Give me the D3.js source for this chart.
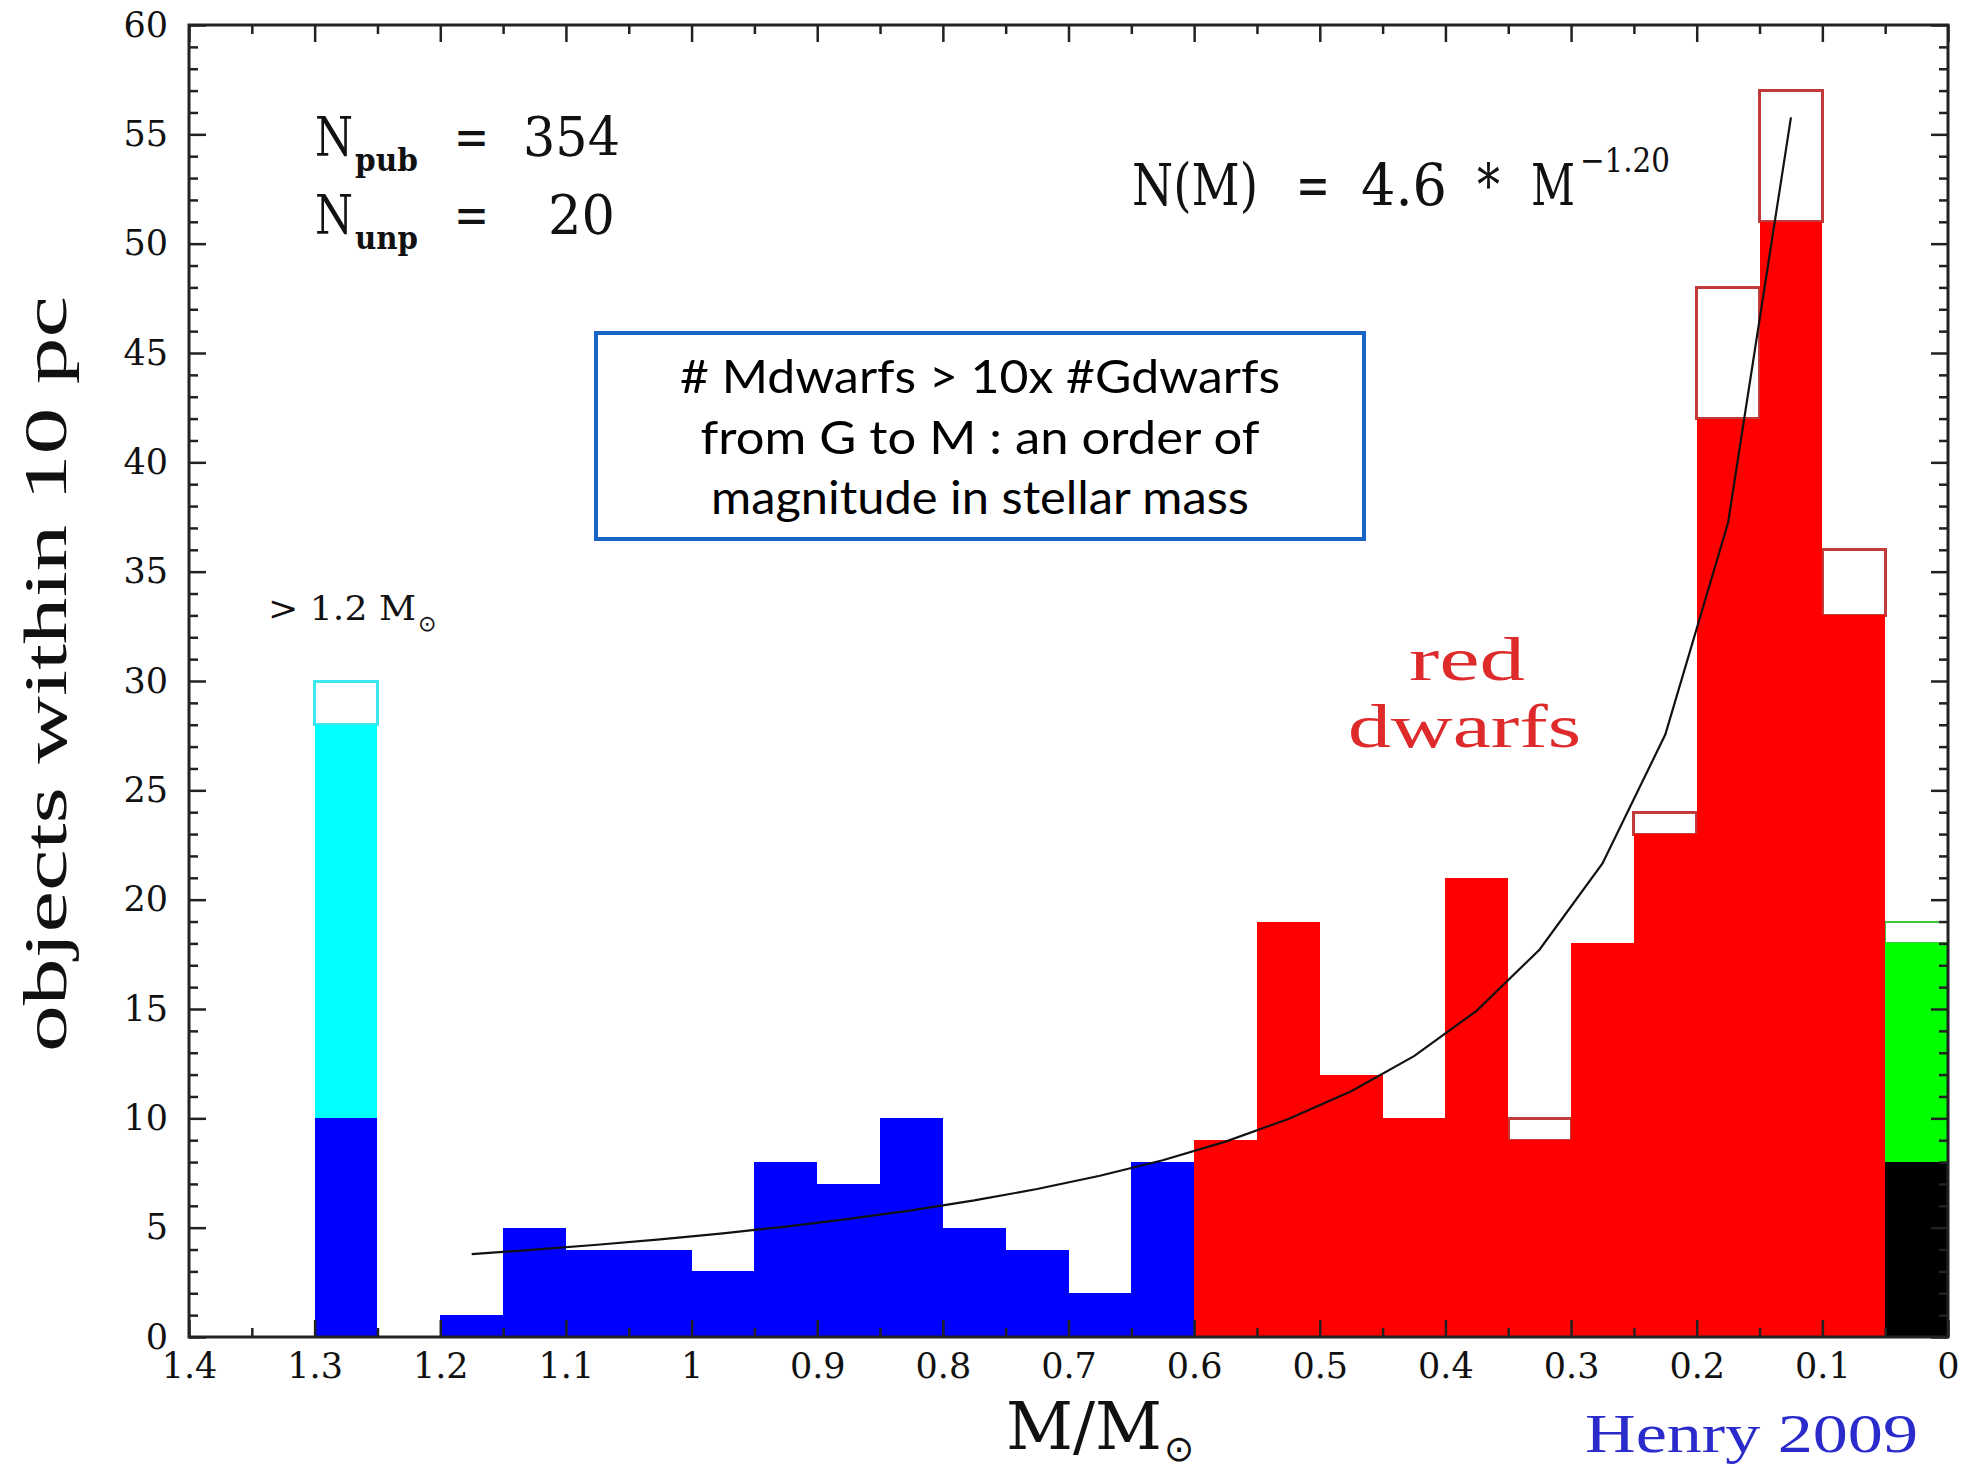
<!DOCTYPE html>
<html>
<head>
<meta charset="utf-8">
<script src="https://cdn.jsdelivr.net/npm/d3@7"></script>
<style>
  html, body { margin: 0; padding: 0; background: #fff; }
  svg { display: block; }
</style>
</head>
<body>
<svg id="chart" width="1976" height="1469"></svg>
<script>
// ---- data: counts of objects within 10 pc per 0.05 Msun mass bin ----
const BIN_WIDTH = 0.05;

// bins above 1.2 Msun, collected into one column
const massiveLo = [1.25];
const massiveBlue = [10];
const massivePublished = [28];
const massiveTotal = [30];

// solar-type stars (lower edge of each bin)
const solarLo = [1.15, 1.10, 1.05, 1.00, 0.95, 0.90, 0.85, 0.80, 0.75, 0.70, 0.65, 0.60];
const solarCounts = [1, 5, 4, 4, 3, 8, 7, 10, 5, 4, 2, 8];

// red dwarfs: published counts and published + unpublished
const redLo = [0.55, 0.50, 0.45, 0.40, 0.35, 0.30, 0.25, 0.20, 0.15, 0.10, 0.05];
const redPublished = [9, 19, 12, 10, 21, 9, 18, 23, 42, 51, 33];
const redTotal = [9, 19, 12, 10, 21, 10, 18, 24, 48, 57, 36];

// lowest-mass bin
const lowLo = [0.00];
const lowBlack = [8];
const lowGreen = [18];
const lowTotal = [19];

// power-law fit N(M) = 4.6 * M^-1.20, sampled at bin centres
const FIT_COEF = 4.6;
const FIT_EXP = -1.20;
const fitMasses = [1.175, 1.125, 1.075, 1.025, 0.975, 0.925, 0.875, 0.825, 0.775, 0.725,
                   0.675, 0.625, 0.575, 0.525, 0.475, 0.425, 0.375, 0.325, 0.275, 0.225,
                   0.175, 0.125];

// axis ticks
const xMajorTicks = [1.4, 1.3, 1.2, 1.1, 1.0, 0.9, 0.8, 0.7, 0.6, 0.5, 0.4, 0.3, 0.2, 0.1, 0];
const xMinorTicks = [1.35, 1.25, 1.15, 1.05, 0.95, 0.85, 0.75, 0.65, 0.55, 0.45, 0.35, 0.25, 0.15, 0.05];
const yMajorTicks = [0, 5, 10, 15, 20, 25, 30, 35, 40, 45, 50, 55, 60];
const yMinorTicks = d3.range(0, 61).filter(v => v % 5 !== 0);

// ---- layout ----
const svg = d3.select("#chart");
const L = 189, R = 1948, T = 25, B = 1337;
const x = d3.scaleLinear().domain([1.4, 0]).range([L, R]);
const y = d3.scaleLinear().domain([0, 60]).range([B, T]);

const SERIF = "'DejaVu Serif', 'Liberation Serif', serif";
const LIGHT_SERIF = "'Liberation Serif', 'DejaVu Serif', serif";

svg.append("rect").attr("width", 1976).attr("height", 1469).attr("fill", "#fff");

const bars = svg.append("g").attr("shape-rendering", "crispEdges");

function binRect(g, lo, v0, v1) {
  return g.append("rect")
    .attr("x", x(lo + BIN_WIDTH))
    .attr("width", x(lo) - x(lo + BIN_WIDTH))
    .attr("y", y(v1))
    .attr("height", y(v0) - y(v1));
}

// outlines of totals (published + unpublished)
redLo.forEach((lo, i) => {
  if (redTotal[i] > redPublished[i])
    binRect(bars, lo, redPublished[i], redTotal[i])
      .attr("fill", "none").attr("stroke", "#c23b3b").attr("stroke-width", 3);
});
massiveLo.forEach((lo, i) => {
  binRect(bars, lo, massivePublished[i], massiveTotal[i])
    .attr("fill", "none").attr("stroke", "#3ee6ee").attr("stroke-width", 3);
});
lowLo.forEach((lo, i) => {
  binRect(bars, lo, lowGreen[i], lowTotal[i])
    .attr("fill", "none").attr("stroke", "#3cc83c").attr("stroke-width", 2);
});

// filled bars
massiveLo.forEach((lo, i) => {
  binRect(bars, lo, massiveBlue[i], massivePublished[i]).attr("fill", "#00ffff");
  binRect(bars, lo, 0, massiveBlue[i]).attr("fill", "#0000ff");
});
solarLo.forEach((lo, i) => {
  binRect(bars, lo, 0, solarCounts[i]).attr("fill", "#0000ff");
});
redLo.forEach((lo, i) => {
  binRect(bars, lo, 0, redPublished[i]).attr("fill", "#ff0000");
});
lowLo.forEach((lo, i) => {
  binRect(bars, lo, lowBlack[i], lowGreen[i]).attr("fill", "#00ff00");
  binRect(bars, lo, 0, lowBlack[i]).attr("fill", "#000000");
});

// power-law fit
const fitPoints = fitMasses.map(m => [m, FIT_COEF * Math.pow(m, FIT_EXP)]);
svg.append("path")
  .datum(fitPoints)
  .attr("fill", "none")
  .attr("stroke", "#111")
  .attr("stroke-width", 2.2)
  .attr("d", d3.line().x(d => x(d[0])).y(d => y(d[1])));

// ---- axes: inward ticks on all four sides ----
const fmt = d => String(+d.toFixed(2));
const axes = svg.append("g");

function styleAxis(g) {
  g.select(".domain").remove();
  g.selectAll(".tick line").attr("stroke", "#222").attr("stroke-width", 2.5);
  g.selectAll(".tick text")
    .attr("fill", "#111")
    .attr("font-family", SERIF)
    .attr("font-size", 35);
}

axes.append("g").attr("transform", `translate(0,${B})`)
  .call(d3.axisBottom(x).tickValues(xMinorTicks).tickSize(-9).tickFormat(""))
  .call(styleAxis);
axes.append("g").attr("transform", `translate(0,${B})`)
  .call(d3.axisBottom(x).tickValues(xMajorTicks).tickSize(-17).tickPadding(16).tickFormat(fmt))
  .call(styleAxis);
axes.append("g").attr("transform", `translate(0,${T})`)
  .call(d3.axisTop(x).tickValues(xMinorTicks).tickSize(-9).tickFormat(""))
  .call(styleAxis);
axes.append("g").attr("transform", `translate(0,${T})`)
  .call(d3.axisTop(x).tickValues(xMajorTicks).tickSize(-17).tickFormat(""))
  .call(styleAxis);

axes.append("g").attr("transform", `translate(${L},0)`)
  .call(d3.axisLeft(y).tickValues(yMinorTicks).tickSize(-9).tickFormat(""))
  .call(styleAxis);
axes.append("g").attr("transform", `translate(${L},0)`)
  .call(d3.axisLeft(y).tickValues(yMajorTicks).tickSize(-17).tickPadding(21).tickFormat(d3.format("d")))
  .call(styleAxis);
axes.append("g").attr("transform", `translate(${R},0)`)
  .call(d3.axisRight(y).tickValues(yMinorTicks).tickSize(-9).tickFormat(""))
  .call(styleAxis);
axes.append("g").attr("transform", `translate(${R},0)`)
  .call(d3.axisRight(y).tickValues(yMajorTicks).tickSize(-17).tickFormat(""))
  .call(styleAxis);

// frame
axes.append("rect")
  .attr("x", L).attr("y", T).attr("width", R - L).attr("height", B - T)
  .attr("fill", "none").attr("stroke", "#222").attr("stroke-width", 3);

// ---- text ----
function txt(s, px, py, size, len, opts = {}) {
  const t = svg.append("text")
    .attr("x", px).attr("y", py)
    .attr("font-family", opts.family || SERIF)
    .attr("font-size", size)
    .attr("fill", opts.fill || "#111")
    .attr("text-anchor", opts.anchor || "start")
    .text(s);
  if (opts.weight) t.attr("font-weight", opts.weight);
  if (len) t.attr("textLength", len).attr("lengthAdjust", "spacingAndGlyphs");
  if (opts.transform) t.attr("transform", opts.transform);
  return t;
}

// sample sizes
txt("N", 315, 156, 54, 38);
txt("pub", 355, 171, 32, 63, { weight: "bold" });
txt("=", 454, 156, 54, 35);
txt("354", 523, 156, 54, 97);
txt("N", 315, 234, 54, 38);
txt("unp", 355, 249, 32, 63, { weight: "bold" });
txt("=", 454, 234, 54, 35);
txt("20", 548, 234, 54, 67);

// fit formula
txt("N(M)", 1132, 205, 58, 126);
txt("=", 1296, 205, 58, 34);
txt("4.6", 1361, 205, 58, 86);
txt("*", 1477, 205, 58, 23);
txt("M", 1531, 205, 58, 44);
txt("\u22121.20", 1580, 172, 34, 90);

// high-mass column label
txt("> 1.2 M", 268, 620, 34, 148);
txt("\u2299", 418, 631, 22, null, { family: "'DejaVu Sans', sans-serif" });

// red dwarfs label
txt("red", 1409, 680, 62, 116, { fill: "#de2a2a", family: LIGHT_SERIF });
txt("dwarfs", 1348, 747, 62, 233, { fill: "#de2a2a", family: LIGHT_SERIF });

// axis titles
txt("objects within 10 pc", 66, 674, 62, 756,
    { anchor: "middle", transform: "rotate(-90,66,674)", family: LIGHT_SERIF });
txt("M/M", 1006, 1449, 66, 156);
txt("\u2299", 1164, 1461, 36, null, { family: "'DejaVu Sans', sans-serif" });
txt("Henry 2009", 1585, 1452, 54, 333, { fill: "#2b2bcc", family: LIGHT_SERIF });

// annotation box
svg.append("rect")
  .attr("x", 596).attr("y", 333).attr("width", 768).attr("height", 206)
  .attr("fill", "#fff").attr("stroke", "#1a66c6").attr("stroke-width", 4);
const SANS = "Lato, 'Open Sans', sans-serif";
txt("# Mdwarfs > 10x #Gdwarfs", 980, 393, 47, 600, { family: SANS, anchor: "middle", fill: "#000" });
txt("from G to M : an order of", 980, 454, 47, 559, { family: SANS, anchor: "middle", fill: "#000" });
txt("magnitude in stellar mass", 980, 514, 47, 538, { family: SANS, anchor: "middle", fill: "#000" });
</script>
</body>
</html>
